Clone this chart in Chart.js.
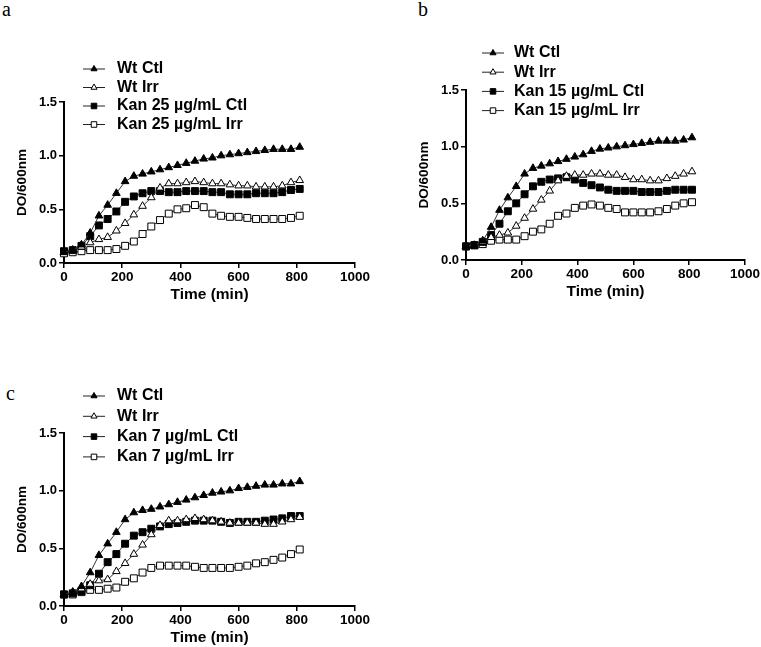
<!DOCTYPE html>
<html>
<head>
<meta charset="utf-8">
<script src="https://cdn.jsdelivr.net/npm/chart.js@4.4.1/dist/chart.umd.min.js"></script>
<style>
  body { margin: 0; background: #fff; width: 761px; height: 647px; overflow: hidden; position: relative; }
  canvas { position: absolute; }
  .tag { position: absolute; font-family: "Liberation Serif", serif; font-size: 20px; color: #000; }
</style>
</head>
<body>
<div class="tag" style="left:2px;top:-2px">a</div>
<div class="tag" style="left:418px;top:-2px">b</div>
<div class="tag" style="left:6px;top:382px">c</div>
<canvas id="chartA" width="380" height="304" style="left:0;top:0"></canvas>
<canvas id="chartB" width="381" height="301" style="left:380px;top:0"></canvas>
<canvas id="chartC" width="380" height="317" style="left:0;top:330px"></canvas>
<script>
// time points (min)
const timeMin = [0, 30, 60, 90, 120, 150, 180, 210, 240, 270, 300, 330, 360, 390,
  420, 450, 480, 510, 540, 570, 600, 630, 660, 690, 720, 750, 780, 810];

const xTicks = [0, 200, 400, 600, 800, 1000];
const yTicks = [0, 0.5, 1.0, 1.5];

// ===== panel a =====
const wtCtlA = [0.10, 0.12, 0.17, 0.28, 0.44, 0.54, 0.65, 0.76, 0.81, 0.83, 0.85, 0.87, 0.89, 0.91,
  0.93, 0.95, 0.97, 0.98, 1.00, 1.01, 1.02, 1.03, 1.04, 1.05, 1.06, 1.06, 1.06, 1.08];
const wtIrrA = [0.10, 0.12, 0.15, 0.19, 0.22, 0.24, 0.30, 0.37, 0.45, 0.53, 0.61, 0.70, 0.74, 0.74,
  0.75, 0.76, 0.75, 0.74, 0.74, 0.73, 0.72, 0.72, 0.71, 0.71, 0.71, 0.72, 0.75, 0.77];
const kan25Ctl = [0.11, 0.12, 0.16, 0.25, 0.35, 0.41, 0.48, 0.57, 0.62, 0.65, 0.67, 0.67, 0.66, 0.66,
  0.67, 0.67, 0.67, 0.66, 0.66, 0.64, 0.64, 0.64, 0.65, 0.65, 0.65, 0.66, 0.68, 0.69];
const kan25Irr = [0.09, 0.10, 0.11, 0.12, 0.12, 0.12, 0.13, 0.16, 0.20, 0.27, 0.34, 0.40, 0.46, 0.50,
  0.51, 0.54, 0.52, 0.46, 0.44, 0.43, 0.43, 0.42, 0.41, 0.41, 0.41, 0.41, 0.42, 0.44];

// ===== panel b =====
const wtCtlB = [0.12, 0.13, 0.17, 0.29, 0.44, 0.55, 0.65, 0.76, 0.81, 0.83, 0.85, 0.87, 0.89, 0.91,
  0.93, 0.96, 0.98, 0.99, 1.00, 1.01, 1.02, 1.03, 1.04, 1.05, 1.05, 1.05, 1.06, 1.08];
const wtIrrB = [0.12, 0.13, 0.16, 0.20, 0.22, 0.24, 0.30, 0.37, 0.45, 0.53, 0.61, 0.70, 0.74, 0.75,
  0.75, 0.76, 0.76, 0.75, 0.75, 0.73, 0.71, 0.71, 0.70, 0.70, 0.72, 0.74, 0.76, 0.78];
const kan15Ctl = [0.12, 0.13, 0.16, 0.22, 0.32, 0.43, 0.50, 0.58, 0.65, 0.69, 0.71, 0.72, 0.73, 0.71,
  0.68, 0.66, 0.64, 0.62, 0.61, 0.61, 0.61, 0.60, 0.60, 0.60, 0.61, 0.62, 0.62, 0.62];
const kan15Irr = [0.12, 0.13, 0.14, 0.17, 0.18, 0.18, 0.18, 0.21, 0.25, 0.27, 0.32, 0.39, 0.41, 0.46,
  0.48, 0.49, 0.48, 0.46, 0.45, 0.42, 0.42, 0.42, 0.42, 0.43, 0.45, 0.48, 0.50, 0.51];

// ===== panel c =====
const wtCtlC = [0.10, 0.12, 0.17, 0.29, 0.44, 0.54, 0.64, 0.75, 0.81, 0.83, 0.84, 0.86, 0.88, 0.90,
  0.92, 0.94, 0.96, 0.98, 0.99, 1.00, 1.02, 1.03, 1.04, 1.05, 1.05, 1.06, 1.06, 1.08];
const wtIrrC = [0.10, 0.12, 0.15, 0.19, 0.22, 0.23, 0.30, 0.37, 0.45, 0.53, 0.62, 0.70, 0.74, 0.74,
  0.75, 0.76, 0.75, 0.74, 0.73, 0.72, 0.72, 0.72, 0.72, 0.71, 0.71, 0.73, 0.75, 0.77];
const kan7Ctl = [0.10, 0.11, 0.13, 0.18, 0.28, 0.38, 0.45, 0.54, 0.61, 0.64, 0.67, 0.69, 0.71, 0.72,
  0.73, 0.74, 0.74, 0.74, 0.73, 0.72, 0.73, 0.73, 0.73, 0.74, 0.75, 0.76, 0.78, 0.78];
const kan7Irr = [0.10, 0.10, 0.12, 0.14, 0.14, 0.15, 0.16, 0.21, 0.24, 0.29, 0.33, 0.35, 0.35, 0.35,
  0.35, 0.34, 0.33, 0.33, 0.33, 0.33, 0.34, 0.35, 0.37, 0.38, 0.40, 0.42, 0.45, 0.49];

const FONT = '"Liberation Sans", Arial, sans-serif';

// legend drawn on the canvas: short line + marker, then bold label
const symbolLegend = {
  id: 'symbolLegend',
  afterDraw(chart, args, opts) {
    const ctx = chart.ctx;
    ctx.save();
    chart.data.datasets.forEach((ds, i) => {
      const y = opts.y + i * opts.gap;
      ctx.strokeStyle = '#222';
      ctx.lineWidth = 1;
      ctx.beginPath();
      ctx.moveTo(opts.x, y);
      ctx.lineTo(opts.x + 22, y);
      ctx.stroke();
      ctx.fillStyle = ds.pointBackgroundColor;
      ctx.strokeStyle = '#000';
      ctx.lineWidth = 1;
      Chart.helpers.drawPoint(ctx, {
        pointStyle: ds.pointStyle,
        radius: ds.pointRadius * 0.8,
        rotation: 0,
        borderWidth: 1
      }, opts.x + 11, y);
      ctx.fillStyle = '#000';
      ctx.font = 'bold 16px ' + FONT;
      ctx.textBaseline = 'middle';
      ctx.textAlign = 'left';
      ctx.fillText(ds.label, opts.textX, y);
    });
    ctx.restore();
  }
};

function series(label, values, style, filled) {
  return {
    label: label,
    data: timeMin.map((t, i) => ({ x: t, y: values[i] })),
    borderColor: '#333',
    borderWidth: 1,
    pointStyle: style,
    pointRadius: style === 'triangle' ? 4.4 : 4.9,
    pointBorderColor: '#000',
    pointBorderWidth: 1,
    pointBackgroundColor: filled ? '#000' : '#fff',
    tension: 0,
    clip: false
  };
}

function makeChart(id, datasets, pad, legend) {
  return new Chart(document.getElementById(id), {
    type: 'line',
    data: { datasets: datasets },
    plugins: [symbolLegend],
    options: {
      responsive: false,
      animation: false,
      events: [],
      layout: { padding: pad },
      plugins: {
        legend: { display: false },
        tooltip: { enabled: false },
        symbolLegend: legend
      },
      scales: {
        x: {
          type: 'linear',
          min: 0,
          max: 1000,
          afterBuildTicks: s => { s.ticks = xTicks.map(v => ({ value: v })); },
          afterFit: s => { s.height = 41; },
          grid: { drawOnChartArea: false, color: '#000', lineWidth: 1.5, tickLength: 5 },
          border: { color: '#000', width: 2 },
          ticks: {
            color: '#000',
            padding: 1,
            font: { family: FONT, size: 13.5, weight: 'bold' },
            callback: v => String(v)
          },
          title: {
            display: true,
            text: 'Time (min)',
            color: '#000',
            padding: { top: 0, bottom: 0 },
            font: { family: FONT, size: 15.5, weight: 'bold' }
          }
        },
        y: {
          min: 0,
          max: 1.5,
          afterBuildTicks: s => { s.ticks = yTicks.map(v => ({ value: v })); },
          afterFit: s => { s.width = 56; },
          grid: { drawOnChartArea: false, color: '#000', lineWidth: 1.5, tickLength: 5 },
          border: { color: '#000', width: 2 },
          ticks: {
            color: '#000',
            padding: 2,
            font: { family: FONT, size: 13, weight: 'bold' },
            callback: v => v.toFixed(1)
          },
          title: {
            display: true,
            text: 'DO/600nm',
            color: '#000',
            padding: { top: 6, bottom: 0 },
            font: { family: FONT, size: 13.5, weight: 'bold' }
          }
        }
      }
    }
  });
}

makeChart('chartA', [
  series('Wt Ctl', wtCtlA, 'triangle', true),
  series('Wt Irr', wtIrrA, 'triangle', false),
  series('Kan 25 µg/mL Ctl', kan25Ctl, 'rect', true),
  series('Kan 25 µg/mL Irr', kan25Irr, 'rect', false)
], { top: 102, left: 8, right: 25, bottom: 0 }, { x: 83, y: 69, gap: 18.5, textX: 117 });

makeChart('chartB', [
  series('Wt Ctl', wtCtlB, 'triangle', true),
  series('Wt Irr', wtIrrB, 'triangle', false),
  series('Kan 15 µg/mL Ctl', kan15Ctl, 'rect', true),
  series('Kan 15 µg/mL Irr', kan15Irr, 'rect', false)
], { top: 90, left: 30, right: 15, bottom: 0 }, { x: 102, y: 53, gap: 19.2, textX: 134 });

makeChart('chartC', [
  series('Wt Ctl', wtCtlC, 'triangle', true),
  series('Wt Irr', wtIrrC, 'triangle', false),
  series('Kan 7 µg/mL Ctl', kan7Ctl, 'rect', true),
  series('Kan 7 µg/mL Irr', kan7Irr, 'rect', false)
], { top: 103, left: 8, right: 25, bottom: 0 }, { x: 83, y: 66, gap: 20.3, textX: 117 });
</script>
</body>
</html>
